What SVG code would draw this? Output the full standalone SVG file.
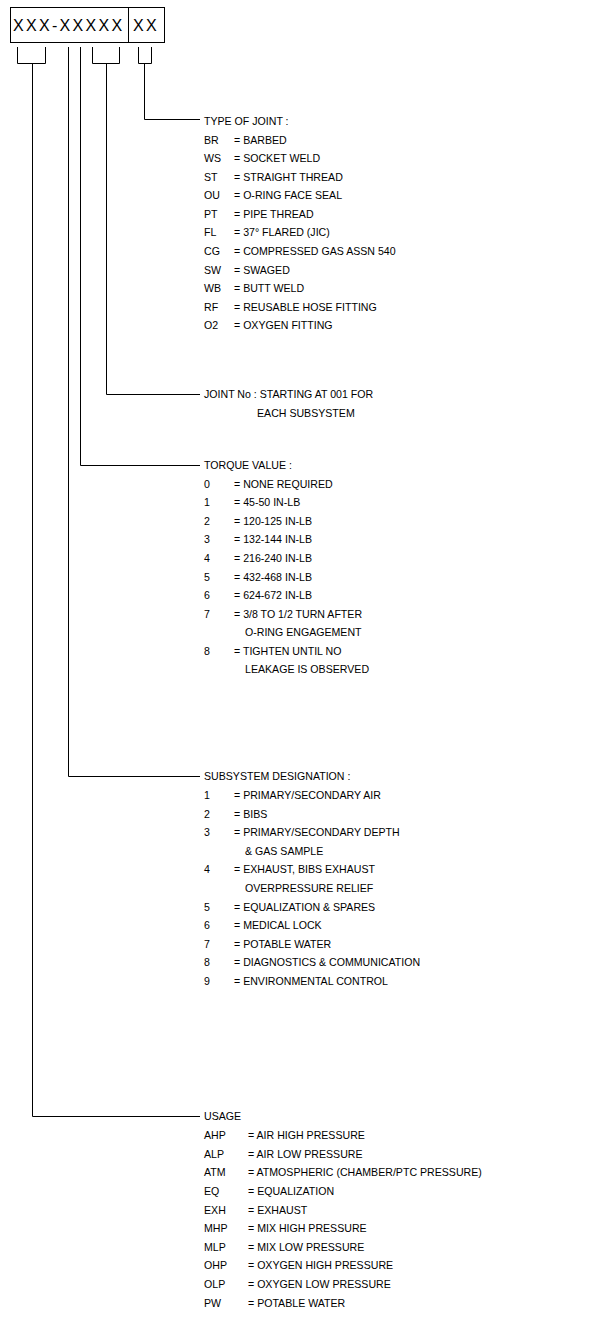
<svg xmlns="http://www.w3.org/2000/svg" width="608" height="1343" viewBox="0 0 608 1343">
<style>
  .ln{fill:none;stroke:#000;stroke-width:1}
  .t{font-family:"Liberation Sans",Arial,sans-serif;font-size:10.6px;fill:#000}
  .big{font-family:"Liberation Sans",Arial,sans-serif;font-size:16px;fill:#000;letter-spacing:2.3px}
</style>
<rect width="608" height="1343" fill="#fff"/>
<g id="code-box">
  <rect class="ln" x="10.5" y="7.5" width="154" height="35"/>
  <line class="ln" x1="128.5" y1="7.5" x2="128.5" y2="42.5"/>
  <text class="big" x="13" y="31">XXX-XXXXX</text>
  <text class="big" x="133" y="31">XX</text>
</g>
<g id="connectors">
  <path class="ln" d="M17.5 47 V63.5 H45.5 V47"/>
  <path class="ln" d="M32.5 63.5 V1116.5 H200"/>
  <path class="ln" d="M68.5 47 V776.5 H200"/>
  <path class="ln" d="M80.5 47 V465.5 H200"/>
  <path class="ln" d="M92.5 47 V63.5 H119.5 V47"/>
  <path class="ln" d="M106.5 63.5 V394.5 H200"/>
  <path class="ln" d="M138.5 47 V63.5 H151.5 V47"/>
  <path class="ln" d="M144.5 63.5 V119.5 H200"/>
</g>
<g id="type-of-joint" class="t">
  <text x="204" y="125">TYPE OF JOINT :</text>
  <text x="204" y="143.5">BR</text><text x="234" y="143.5">= BARBED</text>
  <text x="204" y="162">WS</text><text x="234" y="162">= SOCKET WELD</text>
  <text x="204" y="180.5">ST</text><text x="234" y="180.5">= STRAIGHT THREAD</text>
  <text x="204" y="199">OU</text><text x="234" y="199">= O-RING FACE SEAL</text>
  <text x="204" y="217.5">PT</text><text x="234" y="217.5">= PIPE THREAD</text>
  <text x="204" y="236">FL</text><text x="234" y="236">= 37° FLARED (JIC)</text>
  <text x="204" y="255">CG</text><text x="234" y="255">= COMPRESSED GAS ASSN 540</text>
  <text x="204" y="273.5">SW</text><text x="234" y="273.5">= SWAGED</text>
  <text x="204" y="292">WB</text><text x="234" y="292">= BUTT WELD</text>
  <text x="204" y="310.5">RF</text><text x="234" y="310.5">= REUSABLE HOSE FITTING</text>
  <text x="204" y="329">O2</text><text x="234" y="329">= OXYGEN FITTING</text>
</g>
<g id="joint-no" class="t">
  <text x="204" y="398">JOINT No : STARTING AT 001 FOR</text>
  <text x="257" y="417">EACH SUBSYSTEM</text>
</g>
<g id="torque-value" class="t">
  <text x="204" y="469">TORQUE VALUE :</text>
  <text x="204" y="487.5">0</text><text x="234" y="487.5">= NONE REQUIRED</text>
  <text x="204" y="506">1</text><text x="234" y="506">= 45-50 IN-LB</text>
  <text x="204" y="524.5">2</text><text x="234" y="524.5">= 120-125 IN-LB</text>
  <text x="204" y="543">3</text><text x="234" y="543">= 132-144 IN-LB</text>
  <text x="204" y="562">4</text><text x="234" y="562">= 216-240 IN-LB</text>
  <text x="204" y="580.5">5</text><text x="234" y="580.5">= 432-468 IN-LB</text>
  <text x="204" y="599">6</text><text x="234" y="599">= 624-672 IN-LB</text>
  <text x="204" y="617.5">7</text><text x="234" y="617.5">= 3/8 TO 1/2 TURN AFTER</text>
  <text x="245" y="636">O-RING ENGAGEMENT</text>
  <text x="204" y="654.5">8</text><text x="234" y="654.5">= TIGHTEN UNTIL NO</text>
  <text x="245" y="673">LEAKAGE IS OBSERVED</text>
</g>
<g id="subsystem-designation" class="t">
  <text x="204" y="780">SUBSYSTEM DESIGNATION :</text>
  <text x="204" y="799">1</text><text x="234" y="799">= PRIMARY/SECONDARY AIR</text>
  <text x="204" y="817.5">2</text><text x="234" y="817.5">= BIBS</text>
  <text x="204" y="836">3</text><text x="234" y="836">= PRIMARY/SECONDARY DEPTH</text>
  <text x="245" y="854.5">&amp; GAS SAMPLE</text>
  <text x="204" y="873">4</text><text x="234" y="873">= EXHAUST, BIBS EXHAUST</text>
  <text x="245" y="892">OVERPRESSURE RELIEF</text>
  <text x="204" y="910.5">5</text><text x="234" y="910.5">= EQUALIZATION &amp; SPARES</text>
  <text x="204" y="929">6</text><text x="234" y="929">= MEDICAL LOCK</text>
  <text x="204" y="947.5">7</text><text x="234" y="947.5">= POTABLE WATER</text>
  <text x="204" y="966">8</text><text x="234" y="966">= DIAGNOSTICS &amp; COMMUNICATION</text>
  <text x="204" y="985">9</text><text x="234" y="985">= ENVIRONMENTAL CONTROL</text>
</g>
<g id="usage" class="t">
  <text x="204" y="1120">USAGE</text>
  <text x="204" y="1139">AHP</text><text x="248" y="1139">= AIR HIGH PRESSURE</text>
  <text x="204" y="1157.5">ALP</text><text x="248" y="1157.5">= AIR LOW PRESSURE</text>
  <text x="204" y="1176">ATM</text><text x="248" y="1176">= ATMOSPHERIC (CHAMBER/PTC PRESSURE)</text>
  <text x="204" y="1195">EQ</text><text x="248" y="1195">= EQUALIZATION</text>
  <text x="204" y="1213.5">EXH</text><text x="248" y="1213.5">= EXHAUST</text>
  <text x="204" y="1232">MHP</text><text x="248" y="1232">= MIX HIGH PRESSURE</text>
  <text x="204" y="1250.5">MLP</text><text x="248" y="1250.5">= MIX LOW PRESSURE</text>
  <text x="204" y="1269">OHP</text><text x="248" y="1269">= OXYGEN HIGH PRESSURE</text>
  <text x="204" y="1288">OLP</text><text x="248" y="1288">= OXYGEN LOW PRESSURE</text>
  <text x="204" y="1306.5">PW</text><text x="248" y="1306.5">= POTABLE WATER</text>
</g>
</svg>
